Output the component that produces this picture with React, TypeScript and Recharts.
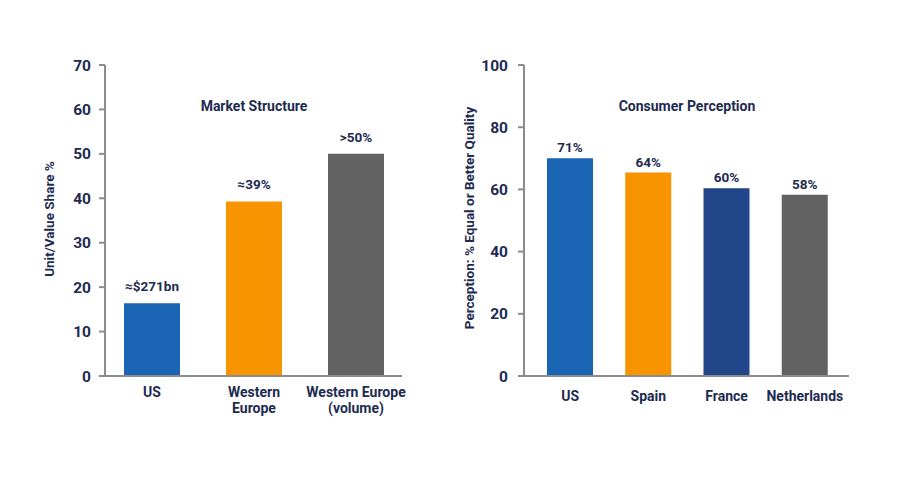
import React from 'react';
import { BarChart, Bar, XAxis, YAxis, Cell, LabelList } from 'recharts';

const leftCategories = ['US', 'Western\nEurope', 'Western Europe\n(volume)'];
const leftValues = [16.4, 39.3, 50];
const leftLabels = ['≈$271bn', '≈39%', '>50%'];
const leftTicks = [0, 10, 20, 30, 40, 50, 60, 70];
const leftTitle = 'Market Structure';
const leftAxisLabel = 'Unit/Value Share %';

const rightCategories = ['US', 'Spain', 'France', 'Netherlands'];
const rightValues = [70, 65.4, 60.4, 58.3];
const rightLabels = ['71%', '64%', '60%', '58%'];
const rightTicks = [0, 20, 40, 60, 80, 100];
const rightTitle = 'Consumer Perception';
const rightAxisLabel = 'Perception: % Equal or Better Quality';

const leftColors = ['#1a64b4', '#f79400', '#626262'];
const rightColors = ['#1a64b4', '#f79400', '#22468a', '#626262'];

const NAVY = '#1e2b50';
const AXIS = '#8c8c8c';
const FONT = 'Roboto, "Noto Sans", sans-serif';

const leftData = leftCategories.map((c, i) => ({ name: c, value: leftValues[i], label: leftLabels[i] }));
const rightData = rightCategories.map((c, i) => ({ name: c, value: rightValues[i], label: rightLabels[i] }));

const makeTick = (firstDy: number) => (props: any) => {
  const { x, y, payload } = props;
  const lines = String(payload.value).split('\n');
  return (
    <text x={x} y={y} textAnchor="middle" fill={NAVY} fontSize={14} fontWeight={700} fontFamily={FONT}>
      {lines.map((l, i) => (
        <tspan key={i} x={x} dy={i === 0 ? firstDy : 16}>
          {l}
        </tspan>
      ))}
    </text>
  );
};

const yTickStyle = { fill: NAVY, fontSize: 15.5, fontWeight: 700, fontFamily: FONT };
const labelStyle = { fill: NAVY, fontSize: 13.5, fontWeight: 700, fontFamily: FONT };

export default function App() {
  return (
    <div style={{ position: 'absolute', left: 0, top: 0, width: 900, height: 500, background: '#fff' }}>
      <div style={{ position: 'absolute', left: 0, top: 0 }}>
        <BarChart width={450} height={500} data={leftData} margin={{ top: 65, right: 48, left: 60, bottom: 94 }}>
          <XAxis
            dataKey="name"
            interval={0}
            tickLine={false}
            tickSize={0}
            tickMargin={0}
            height={30}
            padding={{ left: -4, right: -5 }}
            axisLine={{ stroke: AXIS, strokeWidth: 2 }}
            tick={makeTick(21)}
          />
          <YAxis
            width={45}
            domain={[0, 70]}
            ticks={leftTicks}
            interval={0}
            tickSize={6}
            tickMargin={8}
            tick={yTickStyle}
            tickLine={{ stroke: AXIS, strokeWidth: 2 }}
            axisLine={{ stroke: AXIS, strokeWidth: 2 }}
          />
          <Bar dataKey="value" barSize={56} isAnimationActive={false}>
            {leftData.map((d, i) => (
              <Cell key={i} fill={leftColors[i]} />
            ))}
            <LabelList dataKey="label" position="top" offset={12} style={labelStyle} />
          </Bar>
        </BarChart>
      </div>
      <div style={{ position: 'absolute', left: 450, top: 0 }}>
        <BarChart width={450} height={500} data={rightData} margin={{ top: 65, right: 51, left: 29, bottom: 94 }}>
          <XAxis
            dataKey="name"
            interval={0}
            tickLine={false}
            tickSize={0}
            tickMargin={0}
            height={30}
            padding={{ left: 7, right: 5 }}
            axisLine={{ stroke: AXIS, strokeWidth: 2 }}
            tick={makeTick(25)}
          />
          <YAxis
            width={45}
            domain={[0, 100]}
            ticks={rightTicks}
            interval={0}
            tickSize={6}
            tickMargin={10}
            tick={yTickStyle}
            tickLine={{ stroke: AXIS, strokeWidth: 2 }}
            axisLine={{ stroke: AXIS, strokeWidth: 2 }}
          />
          <Bar dataKey="value" barSize={46} isAnimationActive={false}>
            {rightData.map((d, i) => (
              <Cell key={i} fill={rightColors[i]} />
            ))}
            <LabelList dataKey="label" position="top" offset={6} style={labelStyle} />
          </Bar>
        </BarChart>
      </div>
      <svg width={900} height={500} style={{ position: 'absolute', left: 0, top: 0, pointerEvents: 'none' }}>
        <g fontFamily={FONT} fontWeight={700} fill={NAVY}>
          <text x={254} y={110.5} textAnchor="middle" fontSize={14}>{leftTitle}</text>
          <text x={687} y={110.5} textAnchor="middle" fontSize={14}>{rightTitle}</text>
          <text x={49} y={219} fontSize={13.5} textAnchor="middle" dominantBaseline="central" transform="rotate(-90 49 219)">
            {leftAxisLabel}
          </text>
          <text x={469} y={218} fontSize={13.5} textAnchor="middle" dominantBaseline="central" transform="rotate(-90 469 218)">
            {rightAxisLabel}
          </text>
        </g>
      </svg>
    </div>
  );
}
